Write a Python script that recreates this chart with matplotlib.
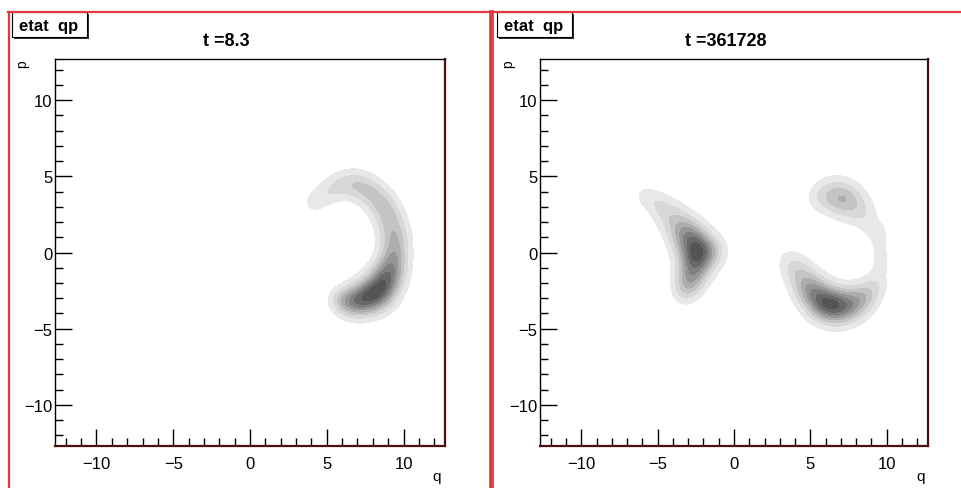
import numpy as np
import matplotlib

matplotlib.use("Agg")
import matplotlib.pyplot as plt
from matplotlib.lines import Line2D
from matplotlib.patches import Rectangle

plt.rcParams["font.family"] = ["Liberation Sans", "DejaVu Sans"]

# Husimi-like density in (q, p), built from chains of gaussian lumps:
# centre q, centre p, weight, width
early_q = [4.2, 5.0, 5.9, 6.9, 7.8, 8.6, 9.1, 9.4, 9.4, 9.2, 8.8, 8.2, 7.3, 6.5, 5.9]
early_p = [3.3, 3.9, 4.4, 4.5, 4.0, 3.2, 2.2, 1.1, 0.0, -1.0, -1.9, -2.7, -3.1, -3.3, -3.1]
early_w = [0.12, 0.15, 0.2, 0.25, 0.3, 0.33, 0.35, 0.38, 0.42, 0.5, 0.62, 0.75, 0.6, 0.38, 0.17]
early_s = [0.5, 0.55, 0.6, 0.62, 0.62, 0.62, 0.62, 0.62, 0.62, 0.65, 0.7, 0.75, 0.7, 0.62, 0.52]

late_q = [-5.8, -5.0, -4.2, -3.4, -2.8, -2.4, -1.6, -2.6, -2.9, -3.2,
          3.7, 4.3, 5.0, 5.9, 6.9, 7.9, 8.7, 9.3,
          9.6, 9.6, 9.55, 9.45,
          5.6, 6.5, 7.4, 8.4, 9.0]
late_p = [3.7, 3.2, 2.5, 1.6, 0.8, 0.0, 0.1, -1.0, -1.9, -2.6,
          -0.6, -1.4, -2.4, -3.3, -3.6, -3.3, -2.8, -2.0,
          -1.0, -0.2, 0.6, 1.3,
          3.6, 3.8, 3.4, 2.6, 1.7]
late_w = [0.1, 0.15, 0.22, 0.35, 0.5, 0.6, 0.25, 0.5, 0.35, 0.18,
          0.12, 0.25, 0.5, 0.75, 0.6, 0.4, 0.25, 0.14,
          0.1, 0.1, 0.1, 0.1,
          0.1, 0.25, 0.35, 0.15, 0.09]
late_s = [0.5, 0.55, 0.65, 0.7, 0.75, 0.75, 0.7, 0.7, 0.6, 0.55,
          0.6, 0.65, 0.7, 0.75, 0.75, 0.7, 0.6, 0.55,
          0.4, 0.4, 0.4, 0.4,
          0.6, 0.75, 0.75, 0.65, 0.5]

titles = ["t =8.3", "t =361728"]
levels = [0.07, 0.18, 0.3, 0.42, 0.54, 0.66, 0.78, 0.9, 1.01]
shades = ["#e8e8e8", "#d8d8d8", "#c4c4c4", "#adadad", "#969696", "#7f7f7f", "#686868", "#545454"]
span = 12.7

W, H = 961, 489


def fx(x):
    return x / W


def fy(y):
    return 1 - y / H


def density(qq, pp, qs, ps, ws, ss):
    z = np.zeros_like(qq)
    for q0, p0, w, s in zip(qs, ps, ws, ss):
        z += w * np.exp(-((qq - q0) ** 2 + (pp - p0) ** 2) / (2 * s * s))
    return z / z.max()


grid = np.linspace(-span, span, 400)
qq, pp = np.meshgrid(grid, grid)
fields = [
    density(qq, pp, early_q, early_p, early_w, early_s),
    density(qq, pp, late_q, late_p, late_w, late_s),
]

fig = plt.figure(figsize=(W / 100, H / 100), dpi=100)

frames = [(55, 445), (540, 928)]
title_x = [226, 726]
box_x = [12, 497]
plabel_x = [22, 508]
qlabel_x = [437, 921]

for i, (x0, x1) in enumerate(frames):
    ax = fig.add_axes([fx(x0), fy(447), fx(x1) - fx(x0), fy(60) - fy(447)])
    ax.contourf(qq, pp, fields[i], levels=levels, colors=shades)
    ax.set_xlim(-span, span)
    ax.set_ylim(-span, span)
    ax.set_xticks([-10, -5, 0, 5, 10])
    ax.set_yticks([-10, -5, 0, 5, 10])
    ax.set_xticks(range(-12, 13), minor=True)
    ax.set_yticks(range(-12, 13), minor=True)
    ax.tick_params(which="both", direction="in", top=False, right=False,
                   labelsize=12, width=1)
    ax.tick_params(which="major", length=12)
    ax.tick_params(which="minor", length=6)
    ax.tick_params(axis="x", pad=7)
    ax.tick_params(axis="y", pad=2)
    for side in ("top", "left"):
        ax.spines[side].set_color("black")
        ax.spines[side].set_linewidth(1)
    for side in ("bottom", "right"):
        ax.spines[side].set_color("#4a1010")
        ax.spines[side].set_linewidth(1.6)

    fig.text(fx(title_x[i]), fy(42), titles[i], ha="center", va="center",
             fontsize=13, fontweight="bold")
    fig.text(fx(plabel_x[i]), fy(64), "p", ha="center", va="center",
             rotation=90, fontsize=10)
    fig.text(fx(qlabel_x[i]), fy(477), "q", ha="center", va="center",
             fontsize=11)

    bx = box_x[i]
    fig.patches.append(Rectangle((fx(bx + 2), fy(40)), fx(75), fy(13) - fy(38),
                                 transform=fig.transFigure, facecolor="#303030",
                                 edgecolor="none"))
    fig.patches.append(Rectangle((fx(bx), fy(38)), fx(75), fy(13) - fy(38),
                                 transform=fig.transFigure, facecolor="white",
                                 edgecolor="black", linewidth=0.8))
    fig.text(fx(bx + 37), fy(26), "etat  qp", ha="center", va="center",
             fontsize=12, fontweight="bold")

# pad borders
red = "#e43a3e"
fig.lines.append(Line2D([fx(8), 1], [fy(12.5), fy(12.5)], color=red, lw=1.6,
                        transform=fig.transFigure))
fig.lines.append(Line2D([fx(8.5), fx(8.5)], [0, fy(12.5)], color=red, lw=1.6,
                        transform=fig.transFigure))
fig.lines.append(Line2D([fx(490.5), fx(490.5)], [0, fy(12.5)], color=red, lw=3.4,
                        transform=fig.transFigure))

fig.savefig("out.png", dpi=100)
